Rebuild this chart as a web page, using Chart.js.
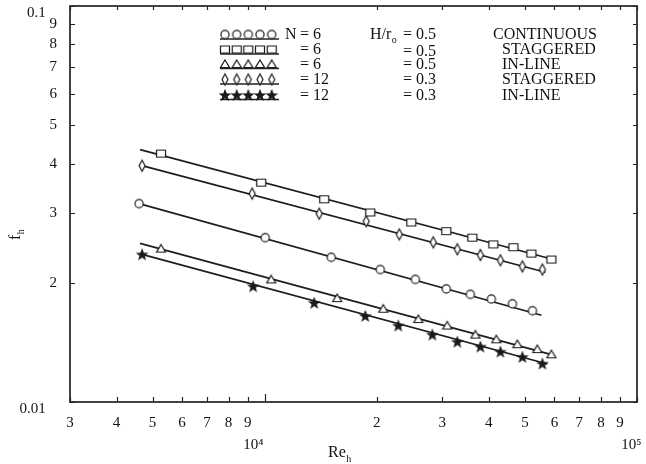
<!DOCTYPE html>
<html><head><meta charset="utf-8">
<script src="https://cdn.jsdelivr.net/npm/chart.js@4/dist/chart.umd.min.js"></script>
<style>html,body{margin:0;padding:0;background:#fff}#wrap{width:646px;height:464px}</style>
</head><body><div id="wrap"><canvas id="c" width="646" height="464"></canvas></div>
<script>
// ---- data ----
const circRe = [4599, 10033, 15093, 20440, 25393, 30746, 35675, 40628, 46277, 52381];
const circF  = [0.0317, 0.0260, 0.0232, 0.0216, 0.0204, 0.0193, 0.0187, 0.0182, 0.0177, 0.0170];
const circFitRe = [4599, 55375];
const circFitF  = [0.0317, 0.01656];

const sqRe = [5268, 9787, 14454, 19212, 24763, 30746, 36125, 41136, 46563, 52051, 58891];
const sqF  = [0.0424, 0.0358, 0.0325, 0.0301, 0.0284, 0.0270, 0.0260, 0.0250, 0.0246, 0.0237, 0.0229];
const sqFitRe = [4627, 59620];
const sqFitF  = [0.0434, 0.0229];

const triRe = [5268, 10411, 15664, 20821, 25861, 30931, 36805, 41906, 47728, 54002, 58891];
const triF  = [0.0244, 0.0204, 0.0183, 0.0172, 0.0162, 0.0156, 0.0148, 0.0144, 0.0140, 0.0136, 0.0132];
const triFitRe = [4627, 59620];
const triFitF  = [0.02515, 0.01313];

const diaRe = [4685, 9255, 14013, 18741, 22986, 28374, 32915, 37961, 42962, 49230, 55719];
const diaF  = [0.0395, 0.0336, 0.0299, 0.0286, 0.0265, 0.0253, 0.0243, 0.0235, 0.0228, 0.0220, 0.0216];
const diaFitRe = [4600, 56755];
const diaFitF  = [0.0397, 0.02126];

const starRe = [4685, 9313, 13587, 18628, 22846, 28200, 32915, 37961, 42962, 49230, 55719];
const starF  = [0.0236, 0.0196, 0.0178, 0.0165, 0.0156, 0.0148, 0.0142, 0.0138, 0.0134, 0.0130, 0.0125];
const starFitRe = [4685, 57478];
const starFitF  = [0.0236, 0.01247];

const xTicks = [3000,4000,5000,6000,7000,8000,9000,10000,20000,30000,40000,50000,60000,70000,80000,90000,100000];
const xTickLabels = ["3","4","5","6","7","8","9",["","10\u2074      "],"2","3","4","5","6","7","8","9",["","10\u2075   "]];
const yTicks = [0.01,0.02,0.03,0.04,0.05,0.06,0.07,0.08,0.09,0.1];
const yTickLabels = [["","0.01   "],"2","3","4","5","6","7","8","9",["","0.1   "]];

const legendN = ["6","6","6","12","12"];
const legendH = ["0.5","0.5","0.5","0.3","0.3"];
const legendType = ["CONTINUOUS","STAGGERED","IN-LINE","STAGGERED","IN-LINE"];
const xTitle = "Re", xTitleSub = "h";
const yTitle = "f", yTitleSub = "h";

// ---- marker images ----
const INK = '#1a1a1a';
function marker(kind){
  const c = document.createElement('canvas'); c.width = 16; c.height = 16;
  const g = c.getContext('2d'); g.strokeStyle = INK; g.lineWidth = 1.2; g.fillStyle = '#fff';
  g.beginPath();
  if (kind==='circle'){ g.arc(8,8,4.1,0,Math.PI*2); }
  else if (kind==='rect'){ g.rect(3.5,4.5,9,7); }
  else if (kind==='tri'){ g.moveTo(8,4); g.lineTo(12.5,11.5); g.lineTo(3.5,11.5); g.closePath(); }
  else if (kind==='dia'){ g.moveTo(8,2.5); g.lineTo(11,8); g.lineTo(8,13.5); g.lineTo(5,8); g.closePath(); }
  else if (kind==='star'){
    for(let i=0;i<10;i++){ const r = i%2?2.1:5.0; const a = -Math.PI/2 + i*Math.PI/5;
      const px = 8 + r*Math.cos(a), py = 8.5 + r*Math.sin(a); i?g.lineTo(px,py):g.moveTo(px,py); }
    g.closePath(); g.fillStyle = INK;
  }
  g.fill(); g.stroke();
  return c;
}
const M = {circle:marker('circle'), rect:marker('rect'), tri:marker('tri'), dia:marker('dia'), star:marker('star')};
const legendMarkers = [M.circle, M.rect, M.tri, M.dia, M.star];

const pts = (xs, ys) => xs.map((x,i)=>({x, y: ys[i]}));
function markerSet(xs, ys, img){ return {data: pts(xs,ys), showLine:false, pointStyle: img, pointRadius: 5, order: 0}; }
function fitSet(xs, ys){ return {data: pts(xs,ys), showLine:true, pointRadius:0, borderColor:'#1e1e1e', borderWidth:1.7, order: 1}; }

const SERIF = '"Liberation Serif", "DejaVu Serif", serif';

const framePlugin = {
  id:'frame',
  afterDraw(chart){
    const {ctx, chartArea:a, scales:{x,y}} = chart;
    ctx.save();
    ctx.strokeStyle = '#222'; ctx.lineWidth = 1.7;
    ctx.strokeRect(a.left, a.top, a.right-a.left, a.bottom-a.top);
    ctx.lineWidth = 1.2;
    ctx.beginPath();
    xTicks.forEach(v=>{
      const px = Math.round(x.getPixelForValue(v))+0.5;
      const L = v===10000 ? 8 : 5;
      ctx.moveTo(px, a.bottom); ctx.lineTo(px, a.bottom-L);
      ctx.moveTo(px, a.top); ctx.lineTo(px, a.top+4);
    });
    yTicks.forEach(v=>{
      const py = Math.round(y.getPixelForValue(v))+0.5;
      ctx.moveTo(a.left, py); ctx.lineTo(a.left+5, py);
      ctx.moveTo(a.right, py); ctx.lineTo(a.right-4, py);
    });
    ctx.stroke();

    // axis titles
    ctx.fillStyle = '#111'; ctx.textBaseline = 'middle'; ctx.textAlign = 'left';
    ctx.font = '16px ' + SERIF;
    const rx = 328, ry = 453;
    ctx.fillText(xTitle, rx, ry);
    const rw = ctx.measureText(xTitle).width;
    ctx.font = '10px ' + SERIF; ctx.fillText(xTitleSub, rx+rw+0.5, ry+6);

    ctx.save(); ctx.translate(16, 240); ctx.rotate(-Math.PI/2);
    ctx.font = '16px ' + SERIF; ctx.fillText(yTitle, 0, 0);
    const fw = ctx.measureText(yTitle).width;
    ctx.font = '10px ' + SERIF; ctx.fillText(yTitleSub, fw+0.5, 5);
    ctx.restore();

    // legend
    const rows = [35, 50, 64.5, 80, 95.5];
    const mx = [225, 236.7, 248.3, 260, 271.7];
    rows.forEach((ry, i)=>{
      ctx.strokeStyle = '#222'; ctx.lineWidth = 1.3;
      ctx.beginPath(); ctx.moveTo(220, ry+4); ctx.lineTo(279, ry+4); ctx.stroke();
      const img = legendMarkers[i];
      mx.forEach(cx=> ctx.drawImage(img, cx-8, ry-8.5));
      ctx.fillStyle = '#111'; ctx.font = '16px ' + SERIF; ctx.textBaseline = 'middle';
      if (i===0){
        ctx.fillText('N', 285, ry);
        ctx.fillText('H/r', 370, ry);
        const hw = ctx.measureText('H/r').width;
        ctx.font = '10px ' + SERIF; ctx.fillText('o', 370+hw+0.5, ry+5);
        ctx.font = '16px ' + SERIF;
      }
      ctx.fillText('= ' + legendN[i], 300, ry);
      ctx.fillText('= ' + legendH[i], 403, ry + (i===1?2:0));
      ctx.fillText(legendType[i], i===0 ? 493 : 502, ry);
    });
    ctx.restore();
  }
};

new Chart(document.getElementById('c'), {
  type: 'scatter',
  data: { datasets: [
    markerSet(circRe, circF, M.circle), fitSet(circFitRe, circFitF),
    markerSet(sqRe, sqF, M.rect), fitSet(sqFitRe, sqFitF),
    markerSet(triRe, triF, M.tri), fitSet(triFitRe, triFitF),
    markerSet(diaRe, diaF, M.dia), fitSet(diaFitRe, diaFitF),
    markerSet(starRe, starF, M.star), fitSet(starFitRe, starFitF)
  ]},
  options: {
    responsive: false, animation: false, devicePixelRatio: 1, events: [],
    layout: { padding: { left: 0, top: 5, right: 9, bottom: 0 } },
    plugins: { legend: { display: false }, tooltip: { enabled: false } },
    scales: {
      x: {
        type: 'logarithmic', min: 3000, max: 100000,
        grid: { display: false }, border: { display: false },
        afterBuildTicks(s){ s.ticks = xTicks.map(v=>({value:v})); },
        afterFit(s){ s.height = 62; s.paddingLeft = 0; s.paddingRight = 0; },
        ticks: {
          autoSkip: false, maxRotation: 0, minRotation: 0, padding: 2, color: '#111',
          font: { family: SERIF, size: 15, lineHeight: '22px' },
          callback: (v, i) => xTickLabels[i]
        }
      },
      y: {
        type: 'logarithmic', min: 0.01, max: 0.1,
        grid: { display: false }, border: { display: false },
        afterBuildTicks(s){ s.ticks = yTicks.map(v=>({value:v})); },
        afterFit(s){ s.width = 70; s.paddingTop = 0; s.paddingBottom = 0; },
        ticks: {
          autoSkip: false, padding: 5, color: '#111',
          font: { family: SERIF, size: 15, lineHeight: '15px' },
          callback: (v, i) => yTickLabels[i]
        }
      }
    }
  },
  plugins: [framePlugin]
});
</script>
</body></html>
